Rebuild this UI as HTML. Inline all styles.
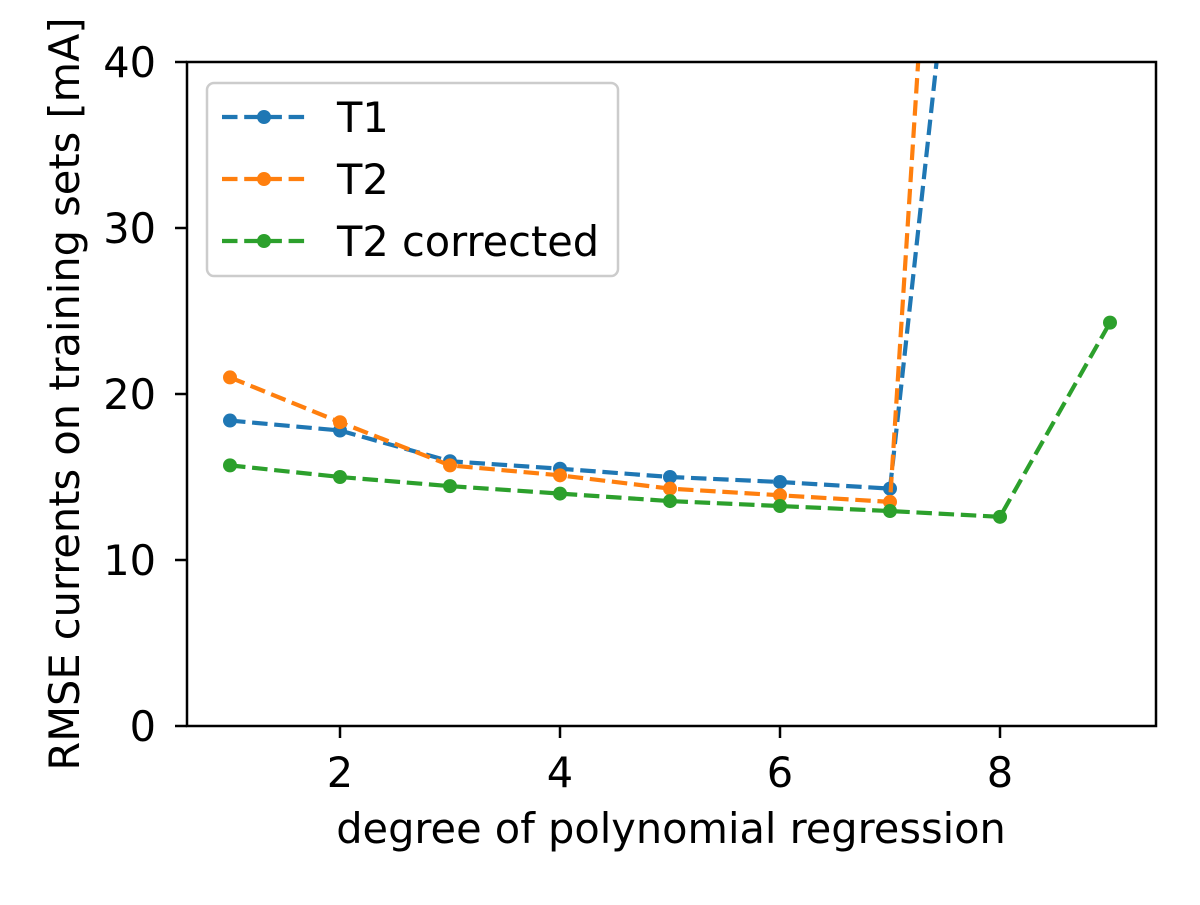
<!DOCTYPE html>
<html><head><meta charset="utf-8"><style>
html,body{margin:0;padding:0;background:#fff;}
svg text{font-family:"DejaVu Sans","Liberation Sans",sans-serif;fill:#000;}
</style></head><body>
<svg id="chart" width="1200" height="900" xmlns="http://www.w3.org/2000/svg">
<defs><clipPath id="plotclip"><rect x="187" y="62" width="969" height="664"/></clipPath></defs>
<g id="series" clip-path="url(#plotclip)"></g>
<rect x="187" y="62" width="969" height="664" fill="none" stroke="#000" stroke-width="2.5"/>
<g id="axes"></g>
<text x="671" y="843" font-size="41.5" text-anchor="middle">degree of polynomial regression</text>
<text transform="translate(79,394) rotate(-90)" font-size="41.5" text-anchor="middle">RMSE currents on training sets [mA]</text>
<g>
<rect x="207" y="83" width="411" height="193" rx="7" fill="#fff" fill-opacity="0.8" stroke="#ccc" stroke-width="2.5"/>
<g id="legend-items"></g>
</g>
</svg>
<script>
const degreesT1 = [1,2,3,4,5,6,7,8];
const valuesT1 = [18.4,17.8,15.95,15.5,15.0,14.7,14.3,75];
const degreesT2 = [1,2,3,4,5,6,7,8];
const valuesT2 = [21.0,18.3,15.7,15.1,14.3,13.9,13.5,117];
const degreesT2c = [1,2,3,4,5,6,7,8,9];
const valuesT2c = [15.7,15.0,14.45,14.0,13.55,13.25,12.95,12.6,24.3];
const xTicks = [2,4,6,8];
const yTicks = [0,10,20,30,40];
const seriesNames = ["T1","T2","T2 corrected"];
const seriesColors = ["#1f77b4","#ff7f0e","#2ca02c"];

const NS="http://www.w3.org/2000/svg";
const xs = v => 230 + (v-1)*110;
const ys = v => 726 - v*16.6;
const seriesG=document.getElementById('series');
const axesG=document.getElementById('axes');
function mk(tag,attrs,parent){const e=document.createElementNS(NS,tag);for(const k in attrs)e.setAttribute(k,attrs[k]);parent.appendChild(e);return e;}

xTicks.forEach(t=>{
  const l=mk('line',{x1:xs(t),x2:xs(t),y1:726,y2:738,stroke:'#000','stroke-width':2.5},axesG);
  
  
  const tx=mk('text',{x:xs(t),y:787,'font-size':41.5,'text-anchor':'middle'},axesG);
  tx.textContent=t;
  
  
});
yTicks.forEach(t=>{
  const l=mk('line',{x1:175,x2:187,y1:ys(t),y2:ys(t),stroke:'#000','stroke-width':2.5},axesG);
  
  
  const tx=mk('text',{x:156,y:ys(t)+15,'font-size':41.5,'text-anchor':'end'},axesG);
  tx.textContent=t;
  
  
});

const allX=[degreesT1,degreesT2,degreesT2c];
const allY=[valuesT1,valuesT2,valuesT2c];
allX.forEach((dx,i)=>{
  const vy=allY[i];
  const pts=dx.map((d,j)=>xs(d)+','+ys(vy[j])).join(' ');
  const pl=mk('polyline',{points:pts,fill:'none',stroke:seriesColors[i],'stroke-width':4.2,'stroke-dasharray':'15.5 6.7'},seriesG);
  
  
  dx.forEach((d,j)=>{
    const c=mk('circle',{cx:xs(d),cy:ys(vy[j]),r:7,fill:seriesColors[i]},seriesG);
    
    
  });
});

const leg=document.getElementById('legend-items');
seriesNames.forEach((n,i)=>{
  const y=117+i*62;
  const g=mk('g',{},leg);
  
  
  mk('line',{x1:222,x2:306,y1:y,y2:y,stroke:seriesColors[i],'stroke-width':4.2,'stroke-dasharray':'15.5 6.7'},g);
  mk('circle',{cx:264,cy:y,r:7,fill:seriesColors[i]},g);
  const t=mk('text',{x:337,y:y+15,'font-size':41.5},g);
  t.textContent=n;
});
</script>
</body></html>
